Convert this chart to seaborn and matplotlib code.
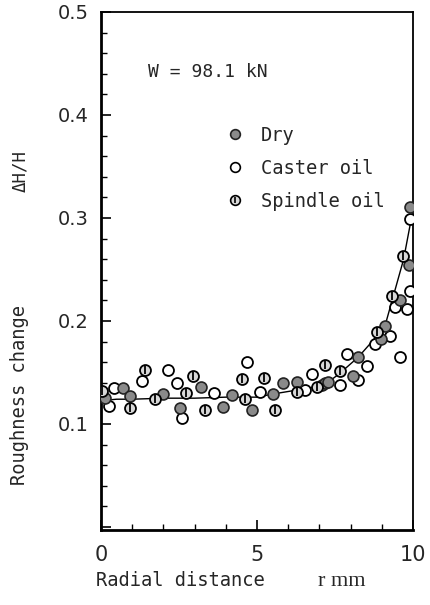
import numpy as np
import pandas as pd
import seaborn as sns
import matplotlib.pyplot as plt
from matplotlib.lines import Line2D
from matplotlib.ticker import MultipleLocator

# ---- dados (r em mm, dH/H)
dry_r = [0.13, 0.72, 0.93, 2.0, 2.53, 3.19, 3.92, 4.19, 4.83, 5.50, 5.82, 6.27, 7.07,
         7.18, 7.29, 8.09, 8.25, 8.99, 9.10, 9.58, 9.88, 9.90]
dry_v = [0.125, 0.135, 0.127, 0.129, 0.115, 0.136, 0.116, 0.128, 0.114, 0.129, 0.140, 0.141, 0.138,
         0.140, 0.141, 0.147, 0.165, 0.182, 0.195, 0.220, 0.254, 0.311]

caster_r = [0.27, 0.42, 1.30, 2.14, 2.43, 2.59, 3.63, 4.67, 5.10, 6.54, 6.75, 7.66, 7.87,
            8.25, 8.52, 8.78, 9.26, 9.42, 9.58, 9.80, 9.90, 9.90]
caster_v = [0.117, 0.135, 0.142, 0.152, 0.140, 0.106, 0.130, 0.160, 0.131, 0.133, 0.148, 0.138, 0.168,
            0.143, 0.156, 0.178, 0.185, 0.214, 0.165, 0.212, 0.229, 0.299]

spindle_r = [0.02, 0.93, 1.41, 1.73, 2.72, 2.96, 3.33, 4.51, 4.62, 5.24, 5.58, 6.27, 6.91,
             7.18, 7.66, 8.84, 9.32, 9.69]
spindle_v = [0.132, 0.115, 0.152, 0.124, 0.130, 0.147, 0.114, 0.144, 0.124, 0.145, 0.114, 0.131, 0.136,
             0.157, 0.151, 0.189, 0.224, 0.263]

# curva media
fit_r = [0.15, 0.5, 1, 2, 3, 4, 5, 5.5, 6.3, 6.9, 7.3, 7.65, 8.25, 8.6, 9.1, 9.35, 9.7, 9.95]
fit_v = [0.123, 0.124, 0.124, 0.125, 0.125, 0.126, 0.126, 0.129, 0.133, 0.136, 0.141, 0.149,
         0.165, 0.177, 0.195, 0.222, 0.260, 0.300]

sns.set_style('ticks')
plt.rcParams['font.family'] = ['DejaVu Sans']
MONO = ['DejaVu Sans Mono']

fig = plt.figure(figsize=(4.31, 6.05), dpi=100)
ax = fig.add_axes([101 / 431, 1 - 530 / 605, 312 / 431, 518 / 605])

df_fit = pd.DataFrame({'r': fit_r, 'v': fit_v})
sns.lineplot(data=df_fit, x='r', y='v', ax=ax, sort=False, estimator=None,
             color='black', linewidth=1.0, zorder=1)

ms = 62
df_dry = pd.DataFrame({'r': dry_r, 'v': dry_v})
df_cas = pd.DataFrame({'r': caster_r, 'v': caster_v})
df_spi = pd.DataFrame({'r': spindle_r, 'v': spindle_v})

sns.scatterplot(data=df_cas, x='r', y='v', ax=ax, s=ms, marker='o',
                facecolor='white', edgecolor='black', linewidth=1.3, zorder=3)
sns.scatterplot(data=df_dry, x='r', y='v', ax=ax, s=ms, marker='o',
                facecolor='#8a8a8a', edgecolor='#222222', linewidth=1.2, zorder=4)
sns.scatterplot(data=df_spi, x='r', y='v', ax=ax, s=ms, marker='o',
                facecolor='#d8d8d8', edgecolor='black', linewidth=1.3, zorder=5)
sns.scatterplot(data=df_spi, x='r', y='v', ax=ax, s=ms * 0.45, marker='|',
                color='black', linewidth=1.3, zorder=6)

ax.set_xlim(0, 10)
ax.set_ylim(-0.003, 0.5)
ax.xaxis.set_major_locator(MultipleLocator(5))
ax.xaxis.set_minor_locator(MultipleLocator(1))
ax.yaxis.set_major_locator(MultipleLocator(0.1))
ax.yaxis.set_minor_locator(MultipleLocator(0.02))
ax.yaxis.set_major_formatter(plt.FuncFormatter(lambda v, p: f'{v:.1f}' if v > 0.05 else ''))
ax.tick_params(which='both', direction='in', top=False, right=False, color='black')
ax.tick_params(which='major', length=7, width=1.2)
ax.tick_params(which='minor', length=4, width=1.0)
ax.tick_params(axis='y', labelsize=14, pad=9)
ax.tick_params(axis='x', labelsize=15, pad=11)
for s in ax.spines.values():
    s.set_color('black')
    s.set_linewidth(1.3)
ax.spines['left'].set_linewidth(2.0)
ax.spines['bottom'].set_linewidth(2.0)
ax.set_xlabel('')
ax.set_ylabel('')

ax.text(0.15, 0.885, 'W = 98.1 kN', transform=ax.transAxes, fontsize=13,
        family=MONO, va='center', ha='left')

h_dry = Line2D([], [], ls='none', marker='o', ms=7, mfc='#8a8a8a', mec='#222222', mew=1.2)
h_cas = Line2D([], [], ls='none', marker='o', ms=7, mfc='white', mec='black', mew=1.2)
h_spi = (Line2D([], [], ls='none', marker='o', ms=7, mfc='#d8d8d8', mec='black', mew=1.2),
         Line2D([], [], ls='none', marker='|', ms=4.5, mec='black', mew=1.2))
leg = ax.legend([h_dry, h_cas, h_spi], ['Dry', 'Caster oil', 'Spindle oil'], loc='upper left',
                bbox_to_anchor=(0.374, 0.795), frameon=False, handlelength=1.0,
                handletextpad=0.9, labelspacing=0.75, borderaxespad=0,
                prop={'family': MONO, 'size': 13.5})

fig.text(96 / 431, 1 - 581 / 605, 'Radial distance', family=MONO, fontsize=13.5,
         ha='left', va='center')
fig.text(318 / 431, 1 - 581 / 605, 'r mm', family=['Liberation Serif'], fontsize=16,
         ha='left', va='center')
fig.text(20 / 431, 1 - 395 / 605, 'Roughness change', family=MONO, fontsize=13.5,
         rotation=90, ha='center', va='center')
fig.text(20 / 431, 1 - 171 / 605, 'ΔH/H', family=MONO, fontsize=12.5,
         rotation=90, ha='center', va='center')

fig.savefig('out.png', dpi=100)
